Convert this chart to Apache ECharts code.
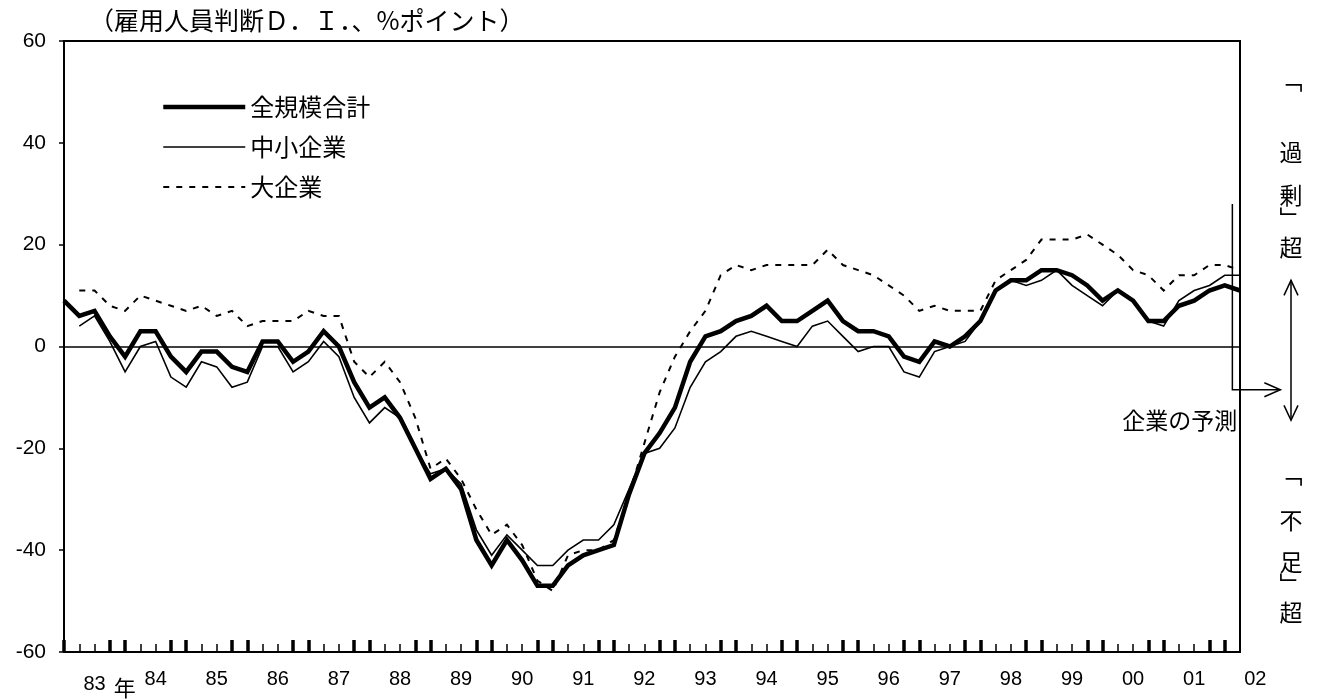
<!DOCTYPE html>
<html><head><meta charset="utf-8">
<script src="https://cdn.jsdelivr.net/npm/echarts@6/dist/echarts.min.js"></script>
<style>html,body{margin:0;padding:0;background:#fff}#c{width:1317px;height:699px}</style>
</head><body><div id="c"></div>
<script>
// quarterly categories 1983Q1 .. 2002Q2 (last = firms' forecast)
const categories = [];
for (let y = 1983; y <= 2002; y++) for (let q = 1; q <= 4; q++) categories.push(y + 'Q' + q);
categories.length = 78;
// one extra slot for the "02" label
const labelCats = categories.concat(['2002Q3']);
const yearLabels = ['83','84','85','86','87','88','89','90','91','92','93','94','95','96','97','98','99','00','01','02'];

const seriesNames = ['全規模合計', '中小企業', '大企業'];

const totalAll = [9,6,7,2,-2,3,3,-2,-5,-1,-1,-4,-5,1,1,-3,-1,3,0,-7,
  -12,-10,-14,-20,-26,-24,-28,-38,-43,-38,-42,-47,-47,-43,-41,-40,-39,-29,-21,-17,
  -12,-3,2,3,5,6,8,5,5,7,9,5,3,3,2,-2,-3,1,0,2,
  5,11,13,13,15,15,14,12,9,11,9,5,5,8,9,11,12,11];

const smallFirms = [null,4,6,1,-5,0,1,-6,-8,-3,-4,-8,-7,0,0,-5,-3,1,-2,-10,
  -15,-12,-14,-20,-25,-24,-27,-36,-41,-37,-40,-43,-43,-40,-38,-38,-35,-28,-21,-20,
  -16,-8,-3,-1,2,3,2,1,0,4,5,2,-1,0,0,-5,-6,-1,0,1,
  5,11,13,12,13,15,12,10,8,11,9,5,4,9,11,12,14,14];

const largeFirms = [null,11,11,8,7,10,9,8,7,8,6,7,4,5,5,5,7,6,6,-3,
  -6,-3,-7,-14,-24,-22,-26,-32,-37,-35,-39,-46,-48,-41,-40,-40,-38,-29,-19,-9,
  -2,3,7,14,16,15,16,16,16,16,19,16,15,14,12,10,7,8,7,7,
  7,13,15,17,21,21,21,22,20,18,15,14,11,14,14,16,16,15];

const yTicks = {min: -60, max: 60, interval: 20};

const W = 1317, gridLeft = 64, gridRight = 77, gridTop = 41, gridBottom = 47;
const plotW = W - gridLeft - gridRight;
const JP = '"Noto Sans CJK JP", sans-serif';
const NUM = '"Liberation Sans", Arial, sans-serif';

const lineW = {total: 4.5, small: 1.6, large: 2};
const chart = echarts.init(document.getElementById('c'), null, {renderer: 'canvas'});
const option = {
  animation: false,
  backgroundColor: '#fff',
  textStyle: {fontFamily: NUM, color: '#000'},
  title: {
    text: '（雇用人員判断Ｄ．Ｉ．、%ポイント）',
    left: 84, top: 3,
    textStyle: {fontSize: 25, fontWeight: 'normal', color: '#000', fontFamily: JP}
  },
  legend: {
    orient: 'vertical', left: 156, top: 90,
    itemWidth: 82, itemHeight: 14, itemGap: 16,
    data: [
      {name: seriesNames[0], itemStyle: {opacity: 0}, lineStyle: {width: lineW.total, color: '#000'}},
      {name: seriesNames[1], itemStyle: {opacity: 0}, lineStyle: {width: lineW.small, color: '#000'}},
      {name: seriesNames[2], itemStyle: {opacity: 0}, lineStyle: {width: lineW.large, color: '#000', type: [6, 7]}}
    ],
    textStyle: {fontSize: 24, color: '#000', fontFamily: JP}
  },
  grid: [
    {left: gridLeft, right: gridRight, top: gridTop, bottom: gridBottom, show: true, borderColor: '#000', borderWidth: 2},
    {left: gridLeft, width: plotW * 78 / 77, top: gridTop, bottom: gridBottom, show: false}
  ],
  xAxis: [
    {type: 'category', gridIndex: 0, data: categories, boundaryGap: false, position: 'bottom',
     axisLine: {onZero: false, lineStyle: {color: '#000', width: 2}},
     axisTick: {inside: true, length: 8, interval: 0, lineStyle: {color: '#000', width: 1.5}},
     axisLabel: {show: false}, splitLine: {show: false}},
    {type: 'category', gridIndex: 0, data: categories, boundaryGap: false, position: 'bottom',
     axisLine: {show: false, onZero: false},
     axisTick: {inside: true, length: 12, interval: (i) => i % 4 === 0 || i % 4 === 3, lineStyle: {color: '#000', width: 3.5}},
     axisLabel: {show: false}, splitLine: {show: false}},
    {type: 'category', gridIndex: 1, data: labelCats, boundaryGap: false, position: 'bottom',
     axisLine: {show: false, onZero: false}, axisTick: {show: false}, splitLine: {show: false},
     axisLabel: {
       interval: (i) => i % 4 === 2,
       margin: 19,
       fontSize: 20, color: '#000', fontFamily: NUM,
       formatter: (v, i) => {
         const lab = yearLabels[(i - 2) / 4];
         if (i === 2) return '{pad|}' + lab + '{nen|年}';
         return lab;
       },
       rich: {
         pad: {width: 30},
         nen: {fontFamily: JP, fontSize: 22, padding: [8, 0, 0, 8], color: '#000'}
       }
     }}
  ],
  yAxis: [
    {type: 'value', gridIndex: 0, min: yTicks.min, max: yTicks.max, interval: yTicks.interval,
     axisLine: {show: true, onZero: false, lineStyle: {color: '#000', width: 2}},
     axisTick: {show: true, length: 5, lineStyle: {color: '#000', width: 1.5}},
     axisLabel: {fontSize: 21, color: '#000', margin: 18, fontFamily: NUM},
     splitLine: {show: false}},
    {type: 'value', gridIndex: 1, min: yTicks.min, max: yTicks.max, show: false}
  ],
  series: [
    {name: seriesNames[2], type: 'line', data: largeFirms, symbol: 'none', z: 2,
     lineStyle: {color: '#000', width: lineW.large, type: [6, 7], join: 'miter'}, itemStyle: {color: '#000'}},
    {name: seriesNames[1], type: 'line', data: smallFirms, symbol: 'none', z: 3,
     lineStyle: {color: '#000', width: lineW.small, join: 'miter'}, itemStyle: {color: '#000'}},
    {name: seriesNames[0], type: 'line', data: totalAll, symbol: 'none', z: 4,
     lineStyle: {color: '#000', width: lineW.total, join: 'miter'}, itemStyle: {color: '#000'},
     markLine: {silent: true, symbol: 'none', label: {show: false},
       lineStyle: {color: '#000', width: 1.5, type: 'solid'}, data: [{yAxis: 0}]}}
  ]
};
chart.setOption(option);

// annotations tied to the data coordinates
const px = (k, v) => chart.convertToPixel({xAxisIndex: 0, yAxisIndex: 0}, [k, v]);
const xa = px(76, 0)[0], xb = px(77, 0)[0];
const fx = (xa + xb) / 2;
const yTop = px(0, 28)[1];
const yArr = px(0, -8.5)[1];
const rx = 1291;
const yUp = px(0, 13)[1], yDn = px(0, -14.5)[1];
const ls = {stroke: '#000', lineWidth: 1.5};
const txt = (t, x, y, size, align) => ({type: 'text', x: x, y: y,
  style: {text: t, font: size + 'px ' + JP, fill: '#000', textAlign: align || 'center', textVerticalAlign: 'middle'}});
const graphic = [
  {type: 'polyline', shape: {points: [[fx, yTop], [fx, yArr], [fx + 48, yArr]]}, style: ls},
  {type: 'polyline', shape: {points: [[fx + 32, yArr - 7], [fx + 48, yArr], [fx + 32, yArr + 7]]}, style: ls},
  txt('企業の予測', fx + 5, yArr + 30, 23, 'right'),
  {type: 'line', shape: {x1: rx, y1: yUp, x2: rx, y2: yDn}, style: ls},
  {type: 'polyline', shape: {points: [[rx - 7, yUp + 15], [rx, yUp], [rx + 7, yUp + 15]]}, style: ls},
  {type: 'polyline', shape: {points: [[rx - 7, yDn - 15], [rx, yDn], [rx + 7, yDn - 15]]}, style: ls},
  txt('﹁', rx, 80, 23), txt('過', rx, 152, 23), txt('剰', rx, 195, 23), txt('﹂', rx, 218, 23), txt('超', rx, 247, 23),
  txt('﹁', rx, 474, 23), txt('不', rx, 520, 23), txt('足', rx, 562, 23), txt('﹂', rx, 584, 23), txt('超', rx, 612, 23)
];
chart.setOption({graphic: graphic});
</script>
</body></html>
